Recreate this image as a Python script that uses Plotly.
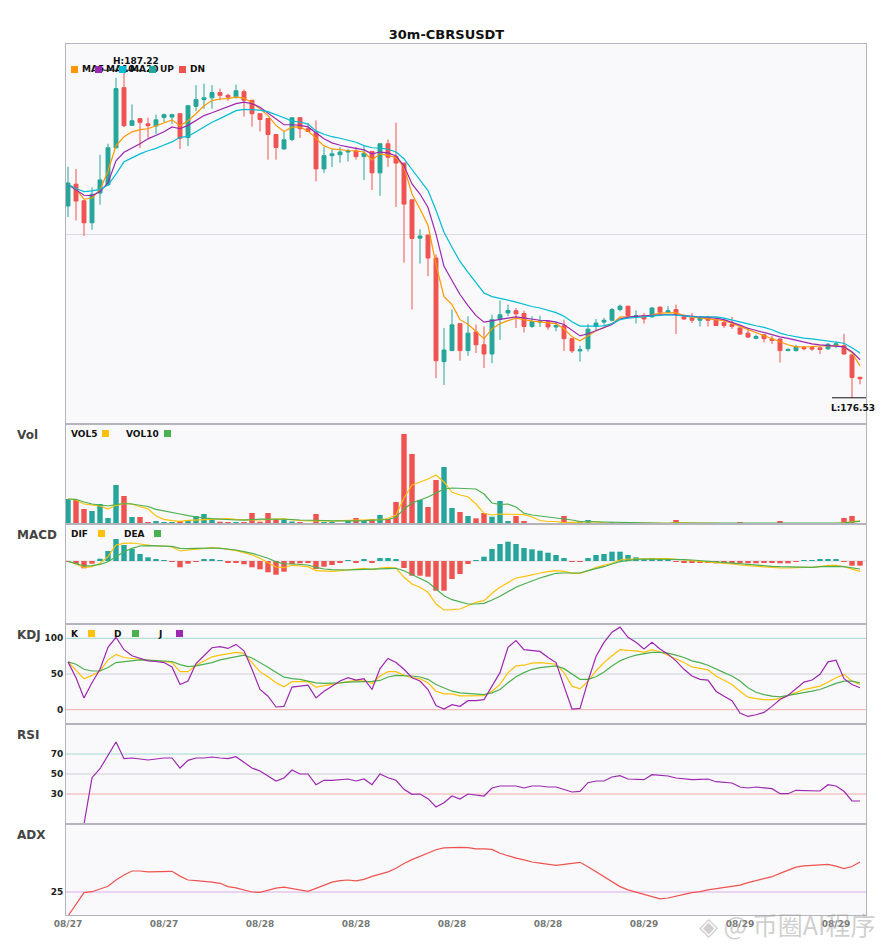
import numpy as np
import pandas as pd
import plotly.graph_objects as go
from plotly.subplots import make_subplots

# =========================
# DATA
# =========================
TITLE = "30m-CBRSUSDT"
START = "2025-08-27 12:00"   # first 30m candle

OPEN = [182.79, 183.50, 182.96, 182.24, 183.21, 183.48, 184.69, 186.65, 185.42, 185.64,
        185.47, 185.40, 185.68, 185.69, 185.80, 185.02, 186.04, 186.26, 186.32, 186.49,
        186.40, 186.35, 186.52, 186.24, 185.80, 185.64, 185.12, 184.65, 184.96, 185.67,
        185.31, 185.18, 184.00, 184.43, 184.46, 184.55, 184.58, 184.40, 184.57, 183.87,
        184.82, 184.41, 184.19, 182.99, 181.74, 181.84, 181.09, 177.71, 178.07, 178.95,
        178.07, 178.68, 178.26, 177.96, 179.10, 179.30, 179.37, 179.28, 178.86, 179.00,
        179.02, 178.84, 178.88, 178.46, 178.06, 178.13, 178.86, 179.00, 179.06, 179.41,
        179.52, 179.19, 179.21, 179.17, 179.49, 179.32, 179.41, 179.19, 179.16, 179.06,
        179.11, 179.08, 178.99, 178.92, 178.81, 178.64, 178.47, 178.59, 178.45, 178.45,
        178.07, 178.07, 178.17, 178.17, 178.16, 178.13, 178.24, 178.23, 177.93, 177.20]
HIGH = [184.07, 184.00, 182.98, 183.40, 184.46, 184.82, 186.97, 187.22, 186.10, 185.64,
        185.67, 185.77, 185.80, 185.80, 185.82, 186.08, 186.73, 186.78, 186.73, 186.62,
        186.45, 186.75, 186.59, 186.24, 185.82, 185.66, 185.14, 185.21, 185.67, 185.69,
        185.50, 185.58, 184.71, 184.65, 184.71, 184.65, 184.71, 184.76, 184.58, 184.83,
        184.96, 185.51, 184.19, 182.99, 182.03, 181.84, 181.21, 178.81, 179.41, 178.95,
        179.19, 178.92, 178.86, 179.24, 179.71, 179.57, 179.46, 179.37, 179.19, 179.21,
        179.03, 179.02, 179.08, 178.47, 178.23, 178.94, 179.10, 179.14, 179.46, 179.57,
        179.53, 179.38, 179.30, 179.49, 179.50, 179.52, 179.57, 179.26, 179.30, 179.19,
        179.21, 179.17, 179.08, 179.17, 178.82, 178.81, 178.59, 178.60, 178.55, 178.46,
        178.14, 178.26, 178.22, 178.22, 178.20, 178.31, 178.37, 178.62, 177.94, 177.21]
LOW = [182.43, 182.32, 181.81, 182.01, 182.83, 183.44, 184.65, 185.36, 185.40, 184.68,
       185.01, 185.14, 185.53, 185.47, 184.65, 184.74, 185.89, 185.96, 185.96, 186.24,
       186.22, 186.29, 185.71, 185.38, 185.22, 184.30, 184.30, 184.63, 184.91, 185.01,
       185.20, 183.59, 183.87, 184.06, 184.20, 184.24, 184.30, 183.64, 183.31, 183.12,
       184.07, 182.76, 180.94, 179.41, 180.91, 180.50, 177.17, 176.95, 178.05, 177.74,
       177.90, 177.99, 177.50, 177.66, 178.42, 179.19, 178.81, 178.66, 178.81, 178.84,
       178.75, 178.70, 178.06, 177.99, 177.71, 178.04, 178.73, 178.86, 179.02, 179.35,
       179.10, 178.95, 178.95, 179.14, 179.24, 179.30, 178.61, 179.08, 178.97, 178.86,
       178.86, 178.88, 178.81, 178.78, 178.58, 178.48, 178.44, 178.34, 178.29, 177.68,
       178.05, 178.04, 178.08, 178.06, 177.96, 178.09, 178.15, 177.93, 176.53, 176.97]
CLOSE = [183.54, 182.95, 182.24, 183.17, 183.64, 184.69, 186.62, 185.41, 185.57, 185.52,
         185.41, 185.60, 185.77, 185.77, 185.00, 186.06, 186.26, 186.32, 186.49, 186.40,
         186.34, 186.55, 186.24, 185.80, 185.61, 185.12, 184.70, 184.95, 185.67, 185.31,
         185.22, 184.00, 184.43, 184.49, 184.55, 184.59, 184.40, 184.51, 183.87, 184.82,
         184.38, 184.19, 182.85, 181.73, 181.81, 181.09, 177.74, 178.09, 178.91, 178.07,
         178.64, 178.26, 177.96, 179.08, 179.24, 179.38, 179.27, 178.86, 179.02, 179.04,
         178.84, 178.89, 178.46, 178.06, 178.10, 178.77, 178.97, 179.06, 179.41, 179.52,
         179.21, 179.21, 179.10, 179.46, 179.32, 179.37, 179.27, 179.10, 179.06, 179.14,
         179.06, 178.89, 178.89, 178.86, 178.61, 178.51, 178.53, 178.46, 178.40, 178.07,
         178.11, 178.20, 178.13, 178.12, 178.11, 178.28, 178.29, 177.96, 177.19, 177.15]

MA5 = [183.49, 183.34, 183.01, 183.05, 183.31, 183.93, 184.75, 185.05, 185.21, 185.28,
       185.31, 185.41, 185.52, 185.60, 185.41, 185.57, 185.80, 186.06, 186.23, 186.28,
       186.29, 186.34, 186.31, 186.16, 185.96, 185.74, 185.42, 185.22, 185.36, 185.36,
       185.24, 184.98, 184.75, 184.65, 184.62, 184.60, 184.59, 184.55, 184.29, 184.49,
       184.44, 184.37, 184.06, 183.18, 182.69, 182.16, 180.88, 179.83, 179.57, 179.08,
       178.93, 178.69, 178.46, 178.78, 178.95, 179.05, 179.13, 179.08, 179.03, 179.01,
       178.98, 178.95, 178.78, 178.52, 178.39, 178.55, 178.72, 178.82, 178.95, 179.16,
       179.18, 179.18, 179.18, 179.24, 179.29, 179.30, 179.30, 179.21, 179.16, 179.14,
       179.11, 179.10, 179.05, 178.96, 178.86, 178.75, 178.67, 178.57, 178.47, 178.37,
       178.26, 178.19, 178.19, 178.20, 178.22, 178.23, 178.23, 178.19, 178.00, 177.57]
MA10 = [183.49, 183.31, 183.14, 183.13, 183.26, 183.55, 184.26, 184.54, 184.67, 184.82,
        184.98, 185.10, 185.21, 185.37, 185.31, 185.42, 185.57, 185.74, 185.83, 185.93,
        186.01, 186.13, 186.18, 186.13, 186.01, 185.82, 185.60, 185.44, 185.44, 185.42,
        185.37, 185.18, 184.98, 184.85, 184.77, 184.72, 184.67, 184.62, 184.49, 184.55,
        184.52, 184.42, 184.10, 183.51, 183.18, 182.74, 181.87, 180.82, 180.36, 179.90,
        179.54, 179.21, 179.00, 179.05, 179.08, 179.13, 179.17, 179.13, 179.08, 179.06,
        179.05, 179.00, 178.92, 178.72, 178.55, 178.62, 178.72, 178.80, 178.92, 179.10,
        179.16, 179.19, 179.21, 179.23, 179.24, 179.24, 179.24, 179.21, 179.19, 179.18,
        179.16, 179.13, 179.08, 179.00, 178.90, 178.80, 178.73, 178.65, 178.59, 178.52,
        178.47, 178.41, 178.34, 178.29, 178.26, 178.24, 178.23, 178.19, 178.03, 177.77]
MA20 = [183.49, 183.36, 183.26, 183.28, 183.33, 183.47, 183.83, 184.23, 184.36, 184.49,
        184.59, 184.67, 184.78, 184.88, 185.03, 185.06, 185.21, 185.37, 185.52, 185.64,
        185.77, 185.90, 185.94, 185.94, 185.92, 185.87, 185.78, 185.67, 185.56, 185.53,
        185.46, 185.24, 185.13, 185.05, 185.00, 184.94, 184.87, 184.76, 184.69, 184.68,
        184.64, 184.55, 184.33, 183.98, 183.65, 183.29, 182.65, 181.93, 181.44, 180.98,
        180.62, 180.28, 179.95, 179.83, 179.78, 179.72, 179.65, 179.57, 179.51, 179.46,
        179.38, 179.31, 179.19, 179.01, 178.87, 178.86, 178.87, 178.88, 178.95, 179.08,
        179.13, 179.15, 179.18, 179.20, 179.22, 179.24, 179.23, 179.20, 179.18, 179.17,
        179.17, 179.17, 179.13, 179.06, 179.00, 178.94, 178.88, 178.83, 178.75, 178.64,
        178.57, 178.52, 178.48, 178.45, 178.42, 178.39, 178.36, 178.31, 178.16, 177.99]

VOL = [25, 24, 15, 13, 20, 6, 39, 28, 7, 7,
       1.2, 3, 1.5, 1.5, 3, 4, 8, 10, 5, 2.3,
       1.5, 1.5, 1.5, 11, 2.3, 11, 5, 4, 2.5, 2,
       0.8, 10, 2, 2, 1, 3, 6, 3, 5, 9,
       5, 22, 90, 70, 24, 17, 44, 57, 16, 12,
       8, 5.7, 11, 7.3, 23, 3, 8, 3, 1, 0.5,
       1, 0.7, 8, 2, 3, 4, 0.7, 0.8, 1.5, 0.8,
       1, 0.5, 0.8, 0.8, 0.6, 0.4, 4, 1, 0.6, 0.5,
       0.5, 0.6, 0.5, 0.5, 1.2, 0.8, 0.3, 0.5, 0.3, 3,
       0.3, 0.5, 0.3, 0.3, 0.4, 0.6, 0.3, 6, 8, 1]
VOL5 = [25, 24, 20, 18.7, 18, 15, 18.7, 20.7, 20, 17.3,
        15.3, 8, 4.7, 3.3, 2.7, 3.7, 4, 4.7, 5.3, 5.3,
        5.3, 4.7, 4, 4, 4, 4.3, 5, 5.3, 4, 3.5,
        3, 3.3, 3, 2.8, 3.3, 3.5, 3.5, 3.3, 3.5, 4.3,
        5.5, 9, 26, 39, 42, 45, 49, 42, 31.7, 29,
        27.3, 20, 10.7, 9, 10, 9.7, 9.5, 9.3, 7, 3.5,
        2.5, 2.5, 1.3, 1.5, 2.3, 2.3, 2.3, 1.2, 1, 0.9,
        0.8, 0.8, 0.8, 0.8, 0.7, 0.7, 1.3, 1.3, 1.3, 1.3,
        1.2, 0.6, 0.5, 0.5, 0.7, 0.7, 0.7, 0.7, 0.6, 1,
        1, 1, 1, 1, 0.4, 0.4, 0.4, 1.5, 2.7, 3.2]
VOL10 = [25, 24.7, 22, 20, 19, 18, 19.5, 20.5, 20, 19,
         17.5, 14.7, 13.3, 12, 10, 8.3, 7, 6, 5.3, 4.7,
         4.3, 4, 3.8, 4.5, 4.8, 5, 5, 5, 4.5, 4,
         4, 3.8, 3.5, 3.2, 3, 3, 3.2, 3.3, 3.5, 4,
         4.5, 6.7, 15, 21, 24, 27, 31, 35, 36, 35.5,
         35.3, 35, 30, 21, 19.5, 20, 17, 10.7, 9, 8,
         7, 6.5, 5.3, 4, 2.5, 2.3, 2.2, 1.8, 1.6, 1.4,
         1.3, 1.2, 1.1, 1, 0.8, 0.7, 0.8, 1, 1, 1,
         1, 1, 0.8, 0.8, 0.8, 0.8, 0.8, 0.8, 0.7, 0.7,
         0.7, 0.7, 0.7, 0.6, 0.6, 0.6, 0.6, 1.2, 2, 2.6]

MACD_HIST = [-0.01, -0.06, -0.146, -0.054, 0.046, 0.2, 0.44, 0.32, 0.24, 0.14,
             0.074, 0.026, 0.006, -0.006, -0.126, -0.054, -0.006, 0.026, 0.026, 0.004,
             -0.026, -0.026, -0.066, -0.126, -0.166, -0.226, -0.274, -0.214, -0.06, -0.046,
             -0.026, -0.16, -0.114, -0.08, -0.026, 0.004, -0.026, 0.026, -0.026, 0.06,
             0.06, 0.026, -0.14, -0.294, -0.294, -0.314, -0.594, -0.594, -0.36, -0.26,
             -0.06, 0.02, 0.086, 0.24, 0.34, 0.386, 0.34, 0.26, 0.234, 0.206,
             0.166, 0.12, 0.06, -0.014, -0.014, 0.06, 0.12, 0.14, 0.186, 0.186,
             0.12, 0.074, 0.04, 0.06, 0.046, 0.026, -0.006, -0.034, -0.034, -0.026,
             -0.034, -0.046, -0.046, -0.046, -0.046, -0.046, -0.046, -0.034, -0.034, -0.046,
             -0.046, -0.014, 0.002, 0.002, 0.026, 0.04, 0.04, -0.01, -0.094, -0.094]
DIF = [-0.006, -0.06, -0.134, -0.114, -0.046, 0.086, 0.32, 0.354, 0.36, 0.34,
       0.306, 0.30, 0.30, 0.28, 0.20, 0.22, 0.24, 0.26, 0.266, 0.26,
       0.234, 0.206, 0.166, 0.12, 0.054, -0.034, -0.12, -0.134, -0.086, -0.1,
       -0.114, -0.194, -0.206, -0.206, -0.194, -0.18, -0.16, -0.146, -0.174, -0.14,
       -0.126, -0.14, -0.326, -0.46, -0.526, -0.626, -0.86, -0.98, -0.974, -0.96,
       -0.894, -0.826, -0.794, -0.646, -0.526, -0.426, -0.34, -0.314, -0.274, -0.24,
       -0.214, -0.194, -0.206, -0.246, -0.246, -0.194, -0.126, -0.086, -0.046, 0.02,
       0.04, 0.04, 0.046, 0.04, 0.046, 0.046, 0.04, 0.02, 0.006, -0.006,
       -0.014, -0.026, -0.046, -0.06, -0.08, -0.094, -0.1, -0.114, -0.126, -0.14,
       -0.14, -0.126, -0.126, -0.126, -0.114, -0.086, -0.086, -0.114, -0.166, -0.206]
DEA = [-0.006, -0.06, -0.1, -0.094, -0.066, -0.014, 0.086, 0.186, 0.254, 0.30,
       0.306, 0.306, 0.306, 0.294, 0.254, 0.246, 0.254, 0.26, 0.26, 0.254,
       0.24, 0.22, 0.186, 0.154, 0.106, 0.054, -0.014, -0.06, -0.06, -0.074,
       -0.08, -0.126, -0.16, -0.174, -0.18, -0.18, -0.174, -0.166, -0.166, -0.16,
       -0.146, -0.146, -0.194, -0.274, -0.34, -0.426, -0.56, -0.694, -0.774, -0.814,
       -0.86, -0.86, -0.846, -0.78, -0.706, -0.614, -0.526, -0.46, -0.394, -0.34,
       -0.294, -0.246, -0.24, -0.24, -0.24, -0.194, -0.16, -0.114, -0.06, -0.014,
       0.006, 0.034, 0.04, 0.04, 0.04, 0.034, 0.034, 0.026, 0.02, 0.006,
       -0.006, -0.02, -0.034, -0.046, -0.06, -0.074, -0.08, -0.094, -0.106, -0.114,
       -0.12, -0.126, -0.126, -0.126, -0.114, -0.106, -0.106, -0.114, -0.14, -0.16]

K = [67, 55.7, 43.4, 48, 54.2, 69.8, 77.4, 73.1, 71.7, 70.3,
     68.9, 67.9, 67.5, 66, 53.3, 53.3, 62.3, 68.4, 74.1, 76.4,
     77.8, 80.2, 78.8, 66, 53.3, 46.2, 37.7, 32.1, 39.2, 39.2,
     39.2, 31.6, 33, 35.4, 37.7, 39.6, 41, 41.5, 36.8, 47.2,
     53.3, 53.3, 48.1, 44.8, 43.4, 37.7, 25.9, 22.2, 22.2, 19.3,
     19.3, 19.3, 19.8, 25.9, 35.4, 51.9, 61.3, 62.3, 65.1, 66,
     65.1, 63.7, 51.9, 33, 29.2, 40.1, 54.2, 66, 75.5, 84,
     83, 82.5, 80.2, 84, 81.1, 76.4, 71.7, 66, 59.9, 57.5,
     55.7, 47.2, 41.5, 35.4, 25.9, 17.5, 15.6, 14.2, 14.2, 15.6,
     19.8, 23.6, 28.3, 30.7, 33, 38.7, 44.8, 49.5, 40.1, 35.4]
D = [67, 63.7, 56.6, 54.2, 54.2, 59, 66, 67.5, 68.4, 69.8,
     69.3, 68.9, 68.4, 67.5, 63.2, 60.4, 61.3, 63.7, 66, 69.8,
     71.7, 74.5, 76.4, 72.5, 66.5, 59.5, 52.4, 45.5, 43.4, 42.5,
     40.1, 37.7, 36.8, 36.8, 37.7, 38.7, 38.7, 39.2, 39.6, 41,
     45.8, 48.1, 48.1, 47.2, 45.8, 42.5, 35.4, 30.7, 25.9, 23.6,
     22.6, 21.7, 21.2, 23.6, 28.3, 37.7, 46.2, 51.9, 56.6, 59,
     60.4, 61.3, 57.5, 49.5, 42.5, 42.5, 46.2, 52.8, 61.3, 68.4,
     73.1, 76.4, 78.3, 80.2, 80.2, 79.2, 76.4, 73.1, 68.4, 66,
     62.3, 56.6, 51.9, 47.2, 40.1, 30.7, 24.5, 21.2, 18.9, 17.9,
     19.8, 21.2, 23.6, 25.9, 28.3, 33, 36.8, 40.1, 40.1, 37.7]
J = [67, 44.8, 16.5, 37.7, 56.6, 87.3, 101.4, 84, 75.5, 71.7,
     68.4, 67.5, 66, 59.9, 35.4, 40.1, 64.6, 75.5, 86.8, 88.2,
     85.8, 91.5, 82.5, 56.6, 28.3, 18.9, 3.8, 4.7, 31.6, 33,
     34.4, 16.5, 25.9, 33, 40.1, 44.8, 41.5, 43.4, 28.3, 57.5,
     71.7, 66, 56.6, 44.8, 40.1, 28.3, 5.7, 0.9, 7.1, 4.7,
     12.7, 12.7, 14.2, 33, 51.9, 87.3, 96.7, 84, 82.5, 81.6,
     73.1, 66, 33, 0.9, 1.9, 40.1, 74.5, 94.3, 108.5, 115.6,
     101.4, 94.3, 84.9, 94.3, 84.9, 77.8, 68.4, 56.6, 47.2, 42.5,
     41.5, 25.9, 18.9, 12.7, -4.7, -9.4, -7.1, -3.8, 4.7, 14.2,
     19.8, 29.2, 38.7, 41.5, 49.5, 67, 69.3, 43.4, 35.4, 30.7]

RSI = [None, None, 0, 46.3, 55.3, 68.7, 82, 65.3, 66, 65,
       64, 65, 66, 66, 56, 63.7, 66, 66, 67, 66,
       65.3, 67.3, 61.3, 56, 53, 48, 43, 46, 54, 50,
       50, 39.3, 43.7, 43.7, 44.7, 45, 43, 45, 39.3, 50,
       46.3, 43.7, 34.7, 29.7, 30, 25.3, 17, 21.3, 28, 25,
       30, 29.3, 28, 36, 38, 38, 38, 36, 38, 38,
       37, 37, 34.3, 32, 32.7, 41.3, 43, 43, 47, 48.3,
       45, 45, 44.3, 49.3, 48.3, 48, 46, 45, 44.3, 44.7,
       45, 42.3, 42, 41, 37, 36, 37, 36, 35.3, 30.3,
       30.3, 33.7, 33.7, 33, 33, 39.3, 38, 32.7, 23, 23]

ADX = [17, 21, 24.8, 25.1, 25.9, 26.9, 29, 30.7, 32, 32,
       31.7, 31.7, 31.7, 31.9, 30.3, 29, 28.8, 28.6, 28.3, 27.9,
       26.8, 26.4, 25.7, 25, 24.9, 25.7, 26.3, 26.6, 26.1, 25.7,
       25.2, 26.2, 27.3, 28.3, 28.8, 29, 28.7, 29.2, 30.2, 31,
       31.7, 32.9, 34.5, 35.8, 36.9, 38.1, 39.1, 39.7, 39.9, 39.9,
       39.8, 39.4, 39.4, 39.2, 37.9, 37, 36.3, 35.7, 35, 34.6,
       34.2, 33.9, 34.2, 34.6, 34.9, 33.4, 31.8, 30.1, 28.4, 26.8,
       25.7, 25, 24.1, 23.4, 22.7, 23, 23.7, 24.2, 24.8, 25.1,
       25.7, 26.1, 26.6, 26.8, 27.3, 28.1, 28.8, 29.4, 30.1, 31.2,
       32.3, 33.3, 33.7, 33.9, 33.9, 34.2, 33.6, 32.8, 33.5, 35]

# =========================
# STYLE
# =========================
UP = "#26a69a"
DN = "#ef5350"
C_MA5 = "#ff9800"
C_MA10 = "#9c27b0"
C_MA20 = "#00bcd4"
C_YEL = "#ffc107"
C_GRN = "#4caf50"
C_PUR = "#9c27b0"
FONT = "DejaVu Sans"
BG = "#f9f9fb"
BORDER = "#b4b4bc"

# page is offset by the 8px body margin; plot box given in page pixels
PAGE_OFF = 8
FIG_W, FIG_H = 877, 934
L, R, T, B = 66, 866, 44, 915


def px_x(px):
    return (px - L) / (R - L)


def px_y(py):
    return (B - py) / (B - T)


times = pd.date_range(START, periods=len(CLOSE), freq="30min")
step = pd.Timedelta(minutes=30)
x_range = [times[0] - step * 0.25, times[-1] + step * 0.75]
bar_w = 0.68 * step.total_seconds() * 1000

fig = make_subplots(rows=6, cols=1, shared_xaxes=True, vertical_spacing=0,
                    row_heights=[380, 100, 100, 100, 100, 91])

# =========================
# 1. PRICE + MA
# =========================
fig.add_trace(go.Candlestick(
    x=times, open=OPEN, high=HIGH, low=LOW, close=CLOSE,
    increasing=dict(line=dict(color=UP, width=1), fillcolor=UP),
    decreasing=dict(line=dict(color=DN, width=1), fillcolor=DN),
    whiskerwidth=0,
), row=1, col=1)

for vals, color in [(MA5, C_MA5), (MA10, C_MA10), (MA20, C_MA20)]:
    fig.add_trace(go.Scatter(x=times, y=vals, mode="lines",
                             line=dict(color=color, width=1.2)), row=1, col=1)

# =========================
# 2. VOLUME
# =========================
dir_colors = [UP if c >= o else DN for o, c in zip(OPEN, CLOSE)]
fig.add_trace(go.Bar(x=times, y=VOL, width=bar_w, marker_color=dir_colors,
                     marker_line_width=0), row=2, col=1)
fig.add_trace(go.Scatter(x=times, y=VOL5, mode="lines", line=dict(color=C_YEL, width=1.2)), row=2, col=1)
fig.add_trace(go.Scatter(x=times, y=VOL10, mode="lines", line=dict(color=C_GRN, width=1.2)), row=2, col=1)

# =========================
# 3. MACD
# =========================
hist_colors = [UP if v >= 0 else DN for v in MACD_HIST]
fig.add_trace(go.Bar(x=times, y=MACD_HIST, width=bar_w, marker_color=hist_colors,
                     marker_line_width=0), row=3, col=1)
fig.add_trace(go.Scatter(x=times, y=DIF, mode="lines", line=dict(color=C_YEL, width=1.2)), row=3, col=1)
fig.add_trace(go.Scatter(x=times, y=DEA, mode="lines", line=dict(color=C_GRN, width=1.2)), row=3, col=1)

# =========================
# 4. KDJ / 5. RSI / 6. ADX
# =========================
for vals, color in [(K, C_YEL), (D, C_GRN), (J, C_PUR)]:
    fig.add_trace(go.Scatter(x=times, y=vals, mode="lines", line=dict(color=color, width=1.2)), row=4, col=1)
fig.add_trace(go.Scatter(x=times, y=RSI, mode="lines", line=dict(color=C_PUR, width=1.2)), row=5, col=1)
fig.add_trace(go.Scatter(x=times, y=ADX, mode="lines", line=dict(color=DN, width=1.2)), row=6, col=1)

LEVEL_TOP = "#a3d6cf"
LEVEL_MID = "#cfcfd4"
LEVEL_LOW = "#f4aaaa"
for row, levels in [(4, [(100, LEVEL_TOP), (50, LEVEL_MID), (0, LEVEL_LOW)]),
                    (5, [(70, LEVEL_TOP), (50, LEVEL_MID), (30, LEVEL_LOW)]),
                    (6, [(25, "#dcaee6")])]:
    for yv, col in levels:
        fig.add_hline(y=yv, line=dict(color=col, width=1), layer="below", row=row, col=1)
fig.add_hline(y=0, line=dict(color="#d8d8dc", width=1), layer="below", row=3, col=1)

# =========================
# HIGH / LOW MARKERS
# =========================
hi = int(np.argmax(HIGH))
lo = int(np.argmin(LOW))
for idx, val in [(hi, HIGH[hi]), (lo, LOW[lo])]:
    fig.add_shape(type="line", x0=times[idx] - step * 2.5, x1=times[idx] + step * 2.0,
                  y0=val, y1=val, line=dict(color="#111111", width=1), row=1, col=1)
fig.add_annotation(x=times[hi] - step * 1.6, y=HIGH[hi], text=f"<b>H:{HIGH[hi]:.2f}</b>",
                   showarrow=False, xanchor="left", yanchor="bottom", yshift=2,
                   font=dict(family=FONT, size=9, color="#111111"), row=1, col=1)
# the low label sits against the right edge of the page, keep it fully visible
fig.add_annotation(xref="paper", x=px_x(877), y=LOW[lo], yref="y",
                   text=f"<b>L:{LOW[lo]:.2f}</b>", showarrow=False, xanchor="right",
                   yanchor="top", yshift=-3, font=dict(family=FONT, size=9, color="#111111"))

# =========================
# PANEL LEGENDS (text first, swatches on top)
# =========================
def legend(items, py):
    for label, color, tx, sx in items:
        fig.add_annotation(xref="paper", yref="paper", x=px_x(tx - 1), y=px_y(py),
                           text=f"<b>{label}</b>", showarrow=False, xanchor="left",
                           yanchor="middle", font=dict(family=FONT, size=9, color="#111111"))
    for label, color, tx, sx in items:
        fig.add_annotation(xref="paper", yref="paper", x=px_x(sx), y=px_y(py),
                           text=" ", width=7, height=7, bgcolor=color, borderpad=0,
                           borderwidth=0, showarrow=False, xanchor="center",
                           yanchor="middle", font=dict(size=1))


legend([("MA5", C_MA5, 81, 74), ("MA10", C_MA10, 105, 98), ("MA20", C_MA20, 129, 122),
        ("UP", UP, 159, 152), ("DN", DN, 189, 182)], 69)
legend([("VOL5", C_YEL, 70, 105), ("VOL10", C_GRN, 125, 167)], 433.5)
legend([("DIF", C_YEL, 70, 101), ("DEA", C_GRN, 123, 157)], 533.5)
legend([("K", C_YEL, 70, 91), ("D", C_GRN, 113, 135), ("J", C_PUR, 157, 179)], 633.5)

for name, py in [("Vol", 434.5), ("MACD", 534.5), ("KDJ", 635), ("RSI", 735), ("ADX", 835)]:
    fig.add_annotation(xref="paper", yref="paper", x=px_x(15), y=px_y(py),
                       text=f"<b>{name}</b>", showarrow=False, xanchor="left", yanchor="middle",
                       font=dict(family=FONT, size=12, color="#444444"))

# watermark
fig.add_annotation(xref="paper", yref="paper", x=px_x(697), y=px_y(924),
                   text="◈ @ 币圈AI程序", showarrow=False, xanchor="left", yanchor="middle",
                   font=dict(family="Noto Sans CJK SC", size=25, color="rgba(160,160,160,0.5)"))

# =========================
# AXES / LAYOUT
# =========================
fig.update_xaxes(range=x_range, showgrid=False, showline=True, mirror=True,
                 linecolor=BORDER, linewidth=1, ticks="", showticklabels=False,
                 rangeslider_visible=False, fixedrange=True)
fig.update_xaxes(showticklabels=True, tickformat="%m/%d", tick0=times[0],
                 dtick=6 * 3600 * 1000,
                 tickfont=dict(family=FONT, size=9, color="#777777", weight="bold"),
                 row=6, col=1)
fig.update_yaxes(showline=True, mirror=True, linecolor=BORDER, linewidth=1,
                 showgrid=False, zeroline=False, ticks="", fixedrange=True,
                 tickfont=dict(family=FONT, size=9, color="#222222", weight="bold"))

y_lo, y_hi = min(LOW), max(HIGH)
pad = (y_hi - y_lo) * 0.08
fig.update_yaxes(range=[y_lo - pad, y_hi + pad], showgrid=True, gridcolor="#dcdce0",
                 tickvals=[(y_lo + y_hi) / 2], showticklabels=False, row=1, col=1)
fig.update_yaxes(range=[0, 100], showticklabels=False, row=2, col=1)
fig.update_yaxes(range=[-1.26, 0.74], showticklabels=False, row=3, col=1)
fig.update_yaxes(range=[-20, 120], tickvals=[0, 50, 100], row=4, col=1)
fig.update_yaxes(range=[0, 100], tickvals=[30, 50, 70], row=5, col=1)
fig.update_yaxes(range=[17.33, 47.67], tickvals=[25], row=6, col=1)

fig.update_layout(
    width=FIG_W, height=FIG_H,
    margin=dict(l=L - PAGE_OFF, r=FIG_W + PAGE_OFF - R, t=T - PAGE_OFF,
                b=FIG_H + PAGE_OFF - B),
    paper_bgcolor="white", plot_bgcolor=BG,
    showlegend=False, hovermode=False,
    title=dict(text=TITLE, x=0.5, xref="container", y=1 - (34 - PAGE_OFF) / FIG_H,
               yanchor="middle",
               font=dict(family=FONT, size=13, color="#111111", weight="bold")),
    font=dict(family=FONT),
)

fig.write_html("out.html")
